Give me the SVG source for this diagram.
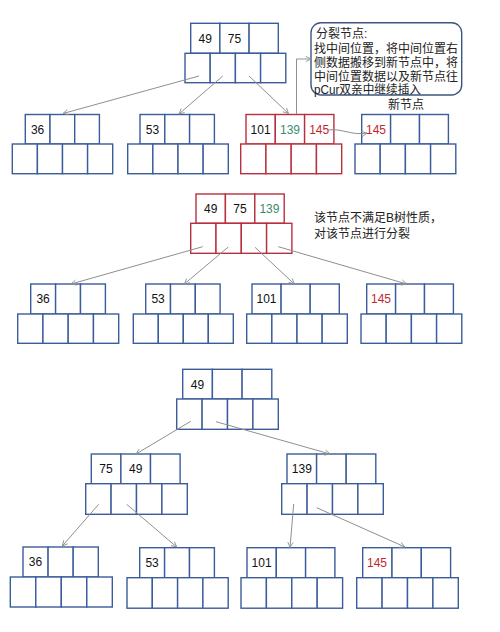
<svg xmlns="http://www.w3.org/2000/svg" width="500" height="632" viewBox="0 0 500 632">
<defs>
<style>
.b rect{fill:#fff;stroke:#3b5c9a;stroke-width:1.4}
.r rect{fill:#fff;stroke:#b8303f;stroke-width:1.4}
text{font-family:"Liberation Sans","Noto Sans CJK SC",sans-serif;font-size:12px;fill:#111}
.n{text-anchor:middle}
.g{fill:#3a8c6e}
.red{fill:#c0282d}
.cn{font-size:12px;fill:#222}
.c line,.c path{stroke:#8f8f8f;stroke-width:1;fill:none;marker-end:url(#ah)}
</style>
<marker id="ah" viewBox="0 0 8 8" refX="7" refY="4" markerWidth="7" markerHeight="7" orient="auto" markerUnits="userSpaceOnUse">
<path d="M1,1 L7,4 L1,7" fill="none" stroke="#8f8f8f" stroke-width="1"/>
</marker>
</defs>
<rect width="500" height="632" fill="#fff"/>

<!-- Section 1 -->
<g id="s1-root" class="b">
<rect x="190.7" y="23.3" width="29.2" height="30"/><rect x="219.9" y="23.3" width="29.2" height="30"/><rect x="249.1" y="23.3" width="29.2" height="30"/>
<rect x="185" y="53.3" width="25.2" height="29.4"/><rect x="210.2" y="53.3" width="25.2" height="29.4"/><rect x="235.4" y="53.3" width="25.2" height="29.4"/><rect x="260.6" y="53.3" width="25.2" height="29.4"/>
<text class="n" x="205.3" y="42.5">49</text><text class="n" x="234.5" y="42.5">75</text>
</g>
<g id="s1-l1" class="b">
<rect x="25.3" y="114.5" width="24.7" height="29.5"/><rect x="50" y="114.5" width="24.7" height="29.5"/><rect x="74.7" y="114.5" width="24.7" height="29.5"/>
<rect x="12.3" y="144" width="25.1" height="29.7"/><rect x="37.4" y="144" width="25.1" height="29.7"/><rect x="62.5" y="144" width="25.1" height="29.7"/><rect x="87.6" y="144" width="25.1" height="29.7"/>
<text class="n" x="37.6" y="133.5">36</text>
</g>
<g id="s1-l2" class="b">
<rect x="140" y="114.5" width="24.8" height="29.5"/><rect x="164.8" y="114.5" width="24.8" height="29.5"/><rect x="189.6" y="114.5" width="24.8" height="29.5"/>
<rect x="127.7" y="144" width="25.15" height="29.7"/><rect x="152.85" y="144" width="25.15" height="29.7"/><rect x="178" y="144" width="25.15" height="29.7"/><rect x="203.15" y="144" width="25.15" height="29.7"/>
<text class="n" x="152.4" y="133.5">53</text>
</g>
<g id="s1-red" class="r">
<rect x="246" y="114.5" width="29.3" height="29.5"/><rect x="275.3" y="114.5" width="29.3" height="29.5"/><rect x="304.6" y="114.5" width="29.3" height="29.5"/>
<rect x="240.7" y="144" width="25.25" height="29.7"/><rect x="265.95" y="144" width="25.25" height="29.7"/><rect x="291.2" y="144" width="25.25" height="29.7"/><rect x="316.45" y="144" width="25.25" height="29.7"/>
<text class="n" x="260.6" y="133.5">101</text><text class="n g" x="290" y="133.5">139</text><text class="n red" x="319.2" y="133.5">145</text>
</g>
<g id="s1-new" class="b">
<rect x="361.7" y="114.5" width="28.9" height="29.5"/><rect x="390.6" y="114.5" width="28.9" height="29.5"/><rect x="419.5" y="114.5" width="28.9" height="29.5"/>
<rect x="355" y="144" width="25.2" height="29.7"/><rect x="380.2" y="144" width="25.2" height="29.7"/><rect x="405.4" y="144" width="25.2" height="29.7"/><rect x="430.6" y="144" width="25.2" height="29.7"/>
<text class="n red" x="376" y="133.5">145</text>
</g>
<g id="s1-callout">
<rect x="311" y="22.7" width="150.7" height="72.3" rx="10" fill="#fff" stroke="#3d5680" stroke-width="1.4"/>
<text class="cn" x="316" y="37.5">分裂节点:</text>
<text class="cn" x="314" y="52.5">找中间位置，将中间位置右</text>
<text class="cn" x="314" y="66.5">侧数据搬移到新节点中，将</text>
<text class="cn" x="314" y="80.5">中间位置数据以及新节点往</text>
<text class="cn" x="314" y="93.5" textLength="107" lengthAdjust="spacingAndGlyphs">pCur双亲中继续插入</text>
</g>
<text id="s1-newlabel" class="cn" x="388" y="108.5">新节点</text>

<!-- Section 2 -->
<g id="s2-root" class="r">
<rect x="196" y="194" width="29.4" height="29.3"/><rect x="225.4" y="194" width="29.4" height="29.3"/><rect x="254.8" y="194" width="29.4" height="29.3"/>
<rect x="190.7" y="223.3" width="25.3" height="30"/><rect x="216" y="223.3" width="25.3" height="30"/><rect x="241.3" y="223.3" width="25.3" height="30"/><rect x="266.6" y="223.3" width="25.3" height="30"/>
<text class="n" x="210.7" y="213">49</text><text class="n" x="240" y="213">75</text><text class="n g" x="269.4" y="213">139</text>
</g>
<text id="s2-note1" class="cn" x="314" y="221.5">该节点不满足B树性质，</text>
<text id="s2-note2" class="cn" x="314" y="237.5">对该节点进行分裂</text>
<g id="s2-l1" class="b">
<rect x="30.7" y="284" width="24.9" height="30"/><rect x="55.6" y="284" width="24.9" height="30"/><rect x="80.5" y="284" width="24.9" height="30"/>
<rect x="17.7" y="314" width="25.25" height="29.3"/><rect x="42.95" y="314" width="25.25" height="29.3"/><rect x="68.2" y="314" width="25.25" height="29.3"/><rect x="93.45" y="314" width="25.25" height="29.3"/>
<text class="n" x="43.1" y="303.3">36</text>
</g>
<g id="s2-l2" class="b">
<rect x="145.7" y="284" width="24.8" height="30"/><rect x="170.5" y="284" width="24.8" height="30"/><rect x="195.3" y="284" width="24.8" height="30"/>
<rect x="133.3" y="314" width="25" height="29.3"/><rect x="158.3" y="314" width="25" height="29.3"/><rect x="183.3" y="314" width="25" height="29.3"/><rect x="208.3" y="314" width="25" height="29.3"/>
<text class="n" x="158.1" y="303.3">53</text>
</g>
<g id="s2-l3" class="b">
<rect x="252" y="284" width="29.1" height="30"/><rect x="281.1" y="284" width="29.1" height="30"/><rect x="310.2" y="284" width="29.1" height="30"/>
<rect x="246.7" y="314" width="25.15" height="29.3"/><rect x="271.85" y="314" width="25.15" height="29.3"/><rect x="297" y="314" width="25.15" height="29.3"/><rect x="322.15" y="314" width="25.15" height="29.3"/>
<text class="n" x="266.5" y="303.3">101</text>
</g>
<g id="s2-l4" class="b">
<rect x="366.7" y="284" width="28.9" height="30"/><rect x="395.6" y="284" width="28.9" height="30"/><rect x="424.5" y="284" width="28.9" height="30"/>
<rect x="361" y="314" width="25.2" height="29.3"/><rect x="386.2" y="314" width="25.2" height="29.3"/><rect x="411.4" y="314" width="25.2" height="29.3"/><rect x="436.6" y="314" width="25.2" height="29.3"/>
<text class="n red" x="381" y="303.3">145</text>
</g>

<!-- Section 3 -->
<g id="s3-root" class="b">
<rect x="182.7" y="369.3" width="29.7" height="29.7"/><rect x="212.4" y="369.3" width="29.7" height="29.7"/><rect x="242.1" y="369.3" width="29.7" height="29.7"/>
<rect x="176.7" y="399" width="25.4" height="30.3"/><rect x="202.1" y="399" width="25.4" height="30.3"/><rect x="227.5" y="399" width="25.4" height="30.3"/><rect x="252.9" y="399" width="25.4" height="30.3"/>
<text class="n" x="197.5" y="388.5">49</text>
</g>
<g id="s3-ml" class="b">
<rect x="91.3" y="454" width="29.6" height="29.7"/><rect x="120.9" y="454" width="29.6" height="29.7"/><rect x="150.5" y="454" width="29.6" height="29.7"/>
<rect x="85.7" y="483.7" width="25.4" height="30.6"/><rect x="111.1" y="483.7" width="25.4" height="30.6"/><rect x="136.5" y="483.7" width="25.4" height="30.6"/><rect x="161.9" y="483.7" width="25.4" height="30.6"/>
<text class="n" x="106" y="473.3">75</text><text class="n" x="135.7" y="473.3">49</text>
</g>
<g id="s3-mr" class="b">
<rect x="287" y="454" width="29.6" height="29.7"/><rect x="316.6" y="454" width="29.6" height="29.7"/><rect x="346.2" y="454" width="29.6" height="29.7"/>
<rect x="281.7" y="483.7" width="25.4" height="30.6"/><rect x="307.1" y="483.7" width="25.4" height="30.6"/><rect x="332.5" y="483.7" width="25.4" height="30.6"/><rect x="357.9" y="483.7" width="25.4" height="30.6"/>
<text class="n" x="301.8" y="473.3">139</text>
</g>
<g id="s3-l1" class="b">
<rect x="23" y="547" width="25.1" height="30"/><rect x="48.1" y="547" width="25.1" height="30"/><rect x="73.2" y="547" width="25.1" height="30"/>
<rect x="10.3" y="577" width="25.5" height="30"/><rect x="35.8" y="577" width="25.5" height="30"/><rect x="61.3" y="577" width="25.5" height="30"/><rect x="86.8" y="577" width="25.5" height="30"/>
<text class="n" x="35.5" y="566.3">36</text>
</g>
<g id="s3-l2" class="b">
<rect x="139.7" y="547.7" width="24.9" height="30"/><rect x="164.6" y="547.7" width="24.9" height="30"/><rect x="189.5" y="547.7" width="24.9" height="30"/>
<rect x="127" y="577.7" width="25.3" height="30.5"/><rect x="152.3" y="577.7" width="25.3" height="30.5"/><rect x="177.6" y="577.7" width="25.3" height="30.5"/><rect x="202.9" y="577.7" width="25.3" height="30.5"/>
<text class="n" x="152.1" y="567">53</text>
</g>
<g id="s3-l3" class="b">
<rect x="247" y="547.7" width="29.3" height="30"/><rect x="276.3" y="547.7" width="29.3" height="30"/><rect x="305.6" y="547.7" width="29.3" height="30"/>
<rect x="241" y="577.7" width="25.4" height="30.5"/><rect x="266.4" y="577.7" width="25.4" height="30.5"/><rect x="291.8" y="577.7" width="25.4" height="30.5"/><rect x="317.2" y="577.7" width="25.4" height="30.5"/>
<text class="n" x="261.6" y="567">101</text>
</g>
<g id="s3-l4" class="b">
<rect x="362.7" y="547.7" width="29.3" height="30"/><rect x="392" y="547.7" width="29.3" height="30"/><rect x="421.3" y="547.7" width="29.3" height="30"/>
<rect x="356.7" y="577.7" width="25.4" height="30.5"/><rect x="382.1" y="577.7" width="25.4" height="30.5"/><rect x="407.5" y="577.7" width="25.4" height="30.5"/><rect x="432.9" y="577.7" width="25.4" height="30.5"/>
<text class="n red" x="377" y="567">145</text>
</g>

<!-- Connectors -->
<g id="connectors" class="c">
<line x1="199" y1="76" x2="63" y2="113.5"/>
<line x1="222.7" y1="76" x2="179" y2="114"/>
<line x1="249" y1="76" x2="288.5" y2="113.5"/>
<path d="M296.5,114 V59 H311"/>
<path d="M328,130 C342,128 352,136 367,133"/>
<line x1="202.7" y1="246.7" x2="71" y2="284"/>
<line x1="228.3" y1="247" x2="184.3" y2="284"/>
<line x1="255" y1="247.3" x2="294.3" y2="284"/>
<line x1="278.3" y1="246.7" x2="406.7" y2="284"/>
<line x1="190.7" y1="421.3" x2="136" y2="454"/>
<line x1="216" y1="421.7" x2="330" y2="454"/>
<line x1="98.7" y1="504.3" x2="62.3" y2="546"/>
<line x1="126.7" y1="504.3" x2="176.7" y2="547"/>
<line x1="293.7" y1="504" x2="290" y2="547.5"/>
<line x1="316.7" y1="507.7" x2="405" y2="547"/>
</g>
</svg>
